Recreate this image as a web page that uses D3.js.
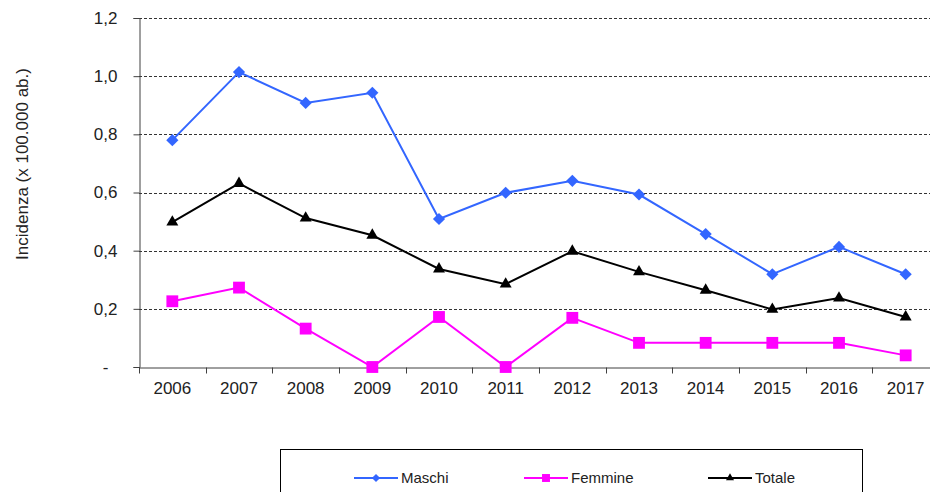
<!DOCTYPE html>
<html>
<head>
<meta charset="utf-8">
<script src="https://cdn.jsdelivr.net/npm/d3@7"></script>
<style>
  body { margin: 0; background: #fff; }
  svg { display: block; font-family: "Liberation Sans", Arial, sans-serif; }
</style>
</head>
<body>
<svg width="930" height="492"></svg>
<script>
// dati
var anni = ["2006", "2007", "2008", "2009", "2010", "2011", "2012", "2013", "2014", "2015", "2016", "2017"];
var maschi = [0.780, 1.014, 0.908, 0.943, 0.509, 0.599, 0.640, 0.593, 0.457, 0.319, 0.413, 0.319];
var femmine = [0.226, 0.273, 0.132, 0.0, 0.172, 0.0, 0.169, 0.083, 0.083, 0.083, 0.083, 0.040];
var totale = [0.498, 0.631, 0.512, 0.453, 0.337, 0.285, 0.398, 0.327, 0.264, 0.198, 0.237, 0.172];
var yTicks = [0, 0.2, 0.4, 0.6, 0.8, 1.0, 1.2];

var serie = [
  { nome: "Maschi", valori: maschi, colore: "#3366ff", simbolo: "diamond" },
  { nome: "Femmine", valori: femmine, colore: "#ff00ff", simbolo: "square" },
  { nome: "Totale", valori: totale, colore: "#000000", simbolo: "triangle" }
];

var svg = d3.select("svg");
var pLeft = 139, pRight = 939, pTop = 18, pBottom = 367;

var x = d3.scaleBand().domain(anni).range([pLeft, pRight]);
var y = d3.scaleLinear().domain([0, 1.2]).range([pBottom, pTop]);

// disegna il marcatore dentro g
function marker(g, tipo, k) {
  if (tipo === "diamond") {
    g.append("path").attr("d", d3.symbol(d3.symbolSquare, 74 * k)()).attr("transform", "rotate(45)");
  } else if (tipo === "square") {
    g.append("path").attr("d", d3.symbol(d3.symbolSquare, 140 * k)());
  } else {
    g.append("path").attr("d", d3.symbol(d3.symbolTriangle, 62 * k)());
  }
}

// griglia
svg.append("g")
  .selectAll("line")
  .data(yTicks.filter(function(d) { return d > 0; }))
  .enter().append("line")
  .attr("x1", pLeft).attr("x2", pRight)
  .attr("y1", function(d) { return Math.round(y(d)) + 0.5; })
  .attr("y2", function(d) { return Math.round(y(d)) + 0.5; })
  .attr("stroke", "#333")
  .attr("stroke-width", 1)
  .attr("stroke-dasharray", "3,2");

// asse y
var yAxis = svg.append("g")
  .attr("transform", "translate(" + (pLeft + 0.5) + ",0)")
  .call(d3.axisLeft(y).tickValues(yTicks).tickSize(6).tickPadding(16)
    .tickFormat(function(d) { return d === 0 ? "-" : d3.format(".1f")(d).replace(".", ","); }));
yAxis.select(".domain").attr("stroke", "#404040");
yAxis.selectAll(".tick line").attr("stroke", "#404040");
yAxis.selectAll(".tick text")
  .attr("font-size", 17)
  .attr("fill", "#222")
  .attr("font-family", "Liberation Sans, Arial, sans-serif")
  .attr("dx", function(d) { return d === 0 ? -9 : 0; });

// asse x
var xAxis = svg.append("g")
  .attr("transform", "translate(0," + (pBottom + 0.5) + ")")
  .call(d3.axisBottom(x).tickSize(0).tickPadding(14));
xAxis.select(".domain").attr("stroke", "#404040");
xAxis.selectAll(".tick text")
  .attr("font-size", 17)
  .attr("fill", "#222")
  .attr("font-family", "Liberation Sans, Arial, sans-serif");
xAxis.selectAll(".sep")
  .data(d3.range(anni.length + 1))
  .enter().append("line")
  .attr("class", "sep")
  .attr("x1", function(i) { return Math.round(pLeft + i * x.bandwidth()) + 0.5; })
  .attr("x2", function(i) { return Math.round(pLeft + i * x.bandwidth()) + 0.5; })
  .attr("y1", 0).attr("y2", 6)
  .attr("stroke", "#404040");

// titolo asse y
svg.append("text")
  .attr("transform", "translate(28,164) rotate(-90)")
  .attr("text-anchor", "middle")
  .attr("font-size", 17)
  .attr("fill", "#222")
  .text("Incidenza (x 100.000 ab.)");

// linee e marcatori
var line = d3.line()
  .x(function(d, i) { return x(anni[i]) + x.bandwidth() / 2; })
  .y(function(d) { return y(d); });

serie.forEach(function(s) {
  svg.append("path")
    .attr("d", line(s.valori))
    .attr("fill", "none")
    .attr("stroke", s.colore)
    .attr("stroke-width", 2);

  svg.append("g")
    .selectAll("g")
    .data(s.valori)
    .enter().append("g")
    .attr("transform", function(d, i) {
      return "translate(" + (x(anni[i]) + x.bandwidth() / 2) + "," + y(d) + ")";
    })
    .attr("fill", s.colore)
    .each(function() { marker(d3.select(this), s.simbolo, 1); });
});

// legenda
svg.append("rect")
  .attr("x", 280.5).attr("y", 449.5)
  .attr("width", 582).attr("height", 60)
  .attr("fill", "#fff")
  .attr("stroke", "#000");

var legX = [354, 524, 708];
var leg = svg.append("g")
  .selectAll("g")
  .data(serie)
  .enter().append("g")
  .attr("transform", function(d, i) { return "translate(" + legX[i] + ",478)"; });

leg.append("line")
  .attr("x1", 0).attr("x2", 44)
  .attr("stroke", function(d) { return d.colore; })
  .attr("stroke-width", 2);

leg.each(function(s) {
  var g = d3.select(this).append("g")
    .attr("transform", "translate(22,0)")
    .attr("fill", s.colore);
  marker(g, s.simbolo, 0.45);
});

leg.append("text")
  .attr("x", 47)
  .attr("dy", "0.35em")
  .attr("font-size", 15)
  .attr("fill", "#222")
  .text(function(d) { return d.nome; });
</script>
</body>
</html>
